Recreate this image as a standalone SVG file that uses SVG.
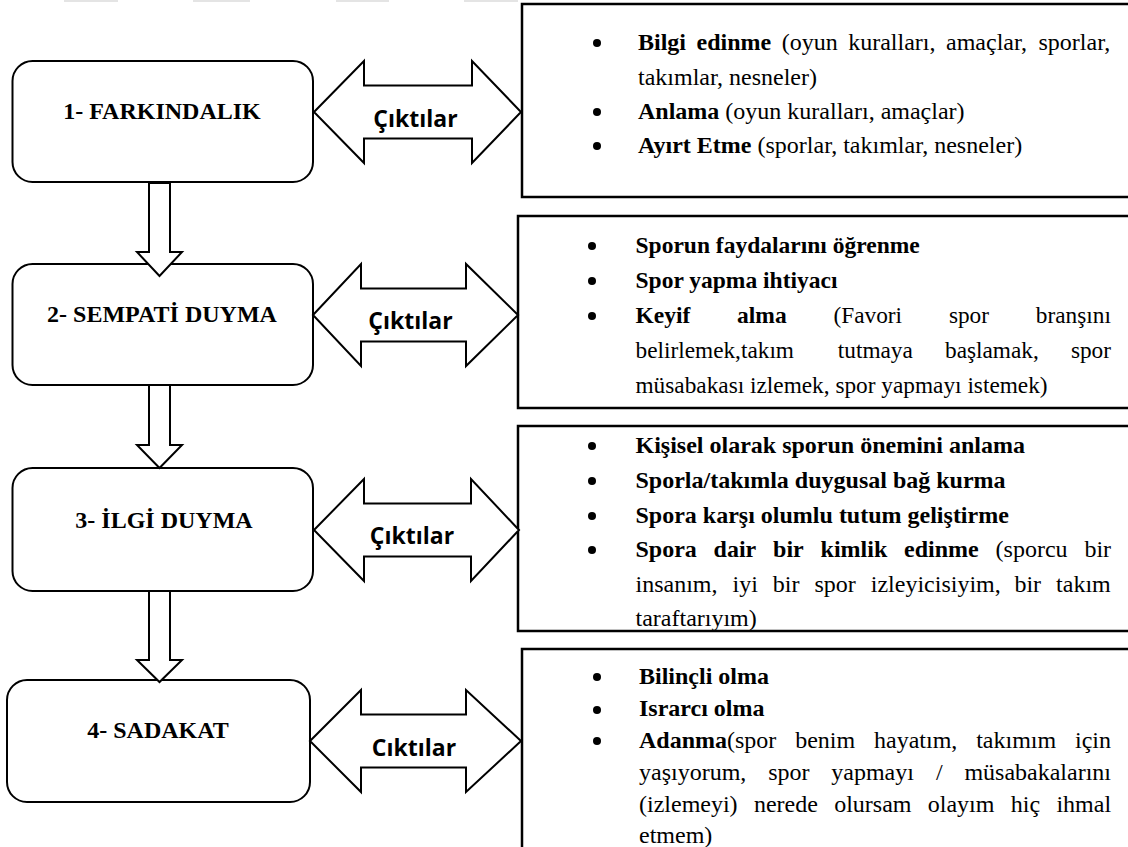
<svg xmlns="http://www.w3.org/2000/svg" width="1128" height="847" viewBox="0 0 1128 847">
<style>
.bg{fill:#ffffff}
.stage{fill:#ffffff;stroke:#000;stroke-width:2}
.out{fill:#ffffff;stroke:#000;stroke-width:2.5}
.conn{fill:#ffffff;stroke:#000;stroke-width:2;stroke-linejoin:miter}
.title{font-family:"Liberation Serif","Times New Roman",serif;font-weight:bold;font-size:24px;fill:#000;text-anchor:middle}
.lbl{font-family:"Open Sans","Liberation Sans",sans-serif;font-weight:700;font-size:23px;fill:#000;text-anchor:middle}
.t{font-family:"Liberation Serif","Times New Roman",serif;font-size:24px;fill:#000}
.s{font-size:23.3px}
.sb{font-size:23.5px;font-weight:bold}
.b{font-weight:bold}
.dot{fill:#000}
.faint{fill:#e4e4e4}
</style>
<rect class="bg" x="0" y="0" width="1128" height="847"/>
<g id="top-marks">
<rect class="faint" x="64" y="0" width="54" height="2"/>
<rect class="faint" x="193" y="0" width="57" height="2"/>
<rect class="faint" x="336" y="0" width="53" height="2"/>
<rect class="faint" x="464" y="0" width="54" height="2"/>
</g>

<g id="out-1">
<rect class="out" x="522" y="4" width="620" height="193"/>
<circle class="dot" cx="597" cy="43" r="4"/>
<circle class="dot" cx="597" cy="112" r="4"/>
<circle class="dot" cx="597" cy="146" r="4"/>
<text class="t" y="50"><tspan class="b" x="638">Bilgi</tspan><tspan class="b" x="696.5">edinme</tspan><tspan x="781.7">(oyun</tspan><tspan x="848.2">kuralları,</tspan><tspan x="946">amaçlar,</tspan><tspan x="1038.5">sporlar,</tspan></text>
<text class="t" x="638" y="85">takımlar, nesneler)</text>
<text class="t" x="638" y="119"><tspan class="b">Anlama</tspan> (oyun kuralları, amaçlar)</text>
<text class="t" x="638" y="153"><tspan class="b">Ayırt Etme</tspan> (sporlar, takımlar, nesneler)</text>
</g>

<g id="out-2">
<rect class="out" x="518" y="216" width="620" height="192"/>
<circle class="dot" cx="592" cy="246" r="4"/>
<circle class="dot" cx="592" cy="281" r="4"/>
<circle class="dot" cx="592" cy="316" r="4"/>
<text class="t sb" x="635.5" y="253">Sporun faydalarını öğrenme</text>
<text class="t sb" x="635.5" y="288">Spor yapma ihtiyacı</text>
<text class="t s" y="323"><tspan class="sb" x="635.5">Keyif</tspan><tspan class="sb" x="737.1">alma</tspan><tspan x="833.5">(Favori</tspan><tspan x="948.9">spor</tspan><tspan x="1035.8">branşını</tspan></text>
<text class="t s" y="358"><tspan x="635.5">belirlemek,takım</tspan><tspan x="837.8">tutmaya</tspan><tspan x="945">başlamak,</tspan><tspan x="1070.9">spor</tspan></text>
<text class="t s" x="635.5" y="393">müsabakası izlemek, spor yapmayı istemek)</text>
</g>

<g id="out-3">
<rect class="out" x="518" y="426" width="620" height="205"/>
<circle class="dot" cx="592" cy="446" r="4"/>
<circle class="dot" cx="592" cy="481" r="4"/>
<circle class="dot" cx="592" cy="516" r="4"/>
<circle class="dot" cx="592" cy="550" r="4"/>
<text class="t b" x="635.5" y="453">Kişisel olarak sporun önemini anlama</text>
<text class="t b" x="635.5" y="488">Sporla/takımla duygusal bağ kurma</text>
<text class="t b" x="635.5" y="523">Spora karşı olumlu tutum geliştirme</text>
<text class="t" y="557"><tspan class="b" x="635.5">Spora</tspan><tspan class="b" x="713.6">dair</tspan><tspan class="b" x="773.1">bir</tspan><tspan class="b" x="820.6">kimlik</tspan><tspan class="b" x="904.1">edinme</tspan><tspan x="995.6">(sporcu</tspan><tspan x="1084.4">bir</tspan></text>
<text class="t" y="592"><tspan x="635.5">insanım,</tspan><tspan x="732.5">iyi</tspan><tspan x="772.8">bir</tspan><tspan x="814.5">spor</tspan><tspan x="870.8">izleyicisiyim,</tspan><tspan x="1014.4">bir</tspan><tspan x="1056.1">takım</tspan></text>
<text class="t" x="635.5" y="626">taraftarıyım)</text>
</g>

<g id="out-4">
<rect class="out" x="522" y="649" width="620" height="220"/>
<circle class="dot" cx="597" cy="677" r="4"/>
<circle class="dot" cx="597" cy="710" r="4"/>
<circle class="dot" cx="597" cy="741" r="4"/>
<text class="t b" x="639" y="684">Bilinçli olma</text>
<text class="t b" x="639" y="716">Israrcı olma</text>
<text class="t" y="748"><tspan x="639"><tspan class="b">Adanma</tspan>(spor</tspan><tspan x="795.2">benim</tspan><tspan x="874">hayatım,</tspan><tspan x="976.2">takımım</tspan><tspan x="1075">için</tspan></text>
<text class="t" y="780"><tspan x="639">yaşıyorum,</tspan><tspan x="768.2">spor</tspan><tspan x="831.3">yapmayı</tspan><tspan x="935.9">/</tspan><tspan x="964.4">müsabakalarını</tspan></text>
<text class="t" y="812"><tspan x="639">(izlemeyi)</tspan><tspan x="753.9">nerede</tspan><tspan x="834.2">olursam</tspan><tspan x="927.8">olayım</tspan><tspan x="1010.8">hiç</tspan><tspan x="1056.4">ihmal</tspan></text>
<text class="t" x="639" y="843">etmem)</text>
</g>

<g id="stage-1">
<rect class="stage" x="12.5" y="61" width="300.5" height="121" rx="20" ry="20"/>
<text class="title" x="162" y="119">1- FARKINDALIK</text>
</g>
<g id="stage-2">
<rect class="stage" x="12.5" y="264" width="300.5" height="121" rx="20" ry="20"/>
<text class="title" x="162" y="322">2- SEMPATİ DUYMA</text>
</g>
<g id="stage-3">
<rect class="stage" x="12.5" y="468" width="300.5" height="123" rx="20" ry="20"/>
<text class="title" x="164" y="528">3- İLGİ DUYMA</text>
</g>
<g id="stage-4">
<rect class="stage" x="7" y="680" width="303" height="122" rx="20" ry="20"/>
<text class="title" x="158" y="738">4- SADAKAT</text>
</g>

<g id="connectors">
<polygon class="conn" points="149,183 170,183 170,252 182,252 159.5,276 137,252 149,252"/>
<polygon class="conn" points="149,385 170,385 170,445 182,445 159.5,468 137,445 149,445"/>
<polygon class="conn" points="149,591 170,591 170,660 182,660 159.5,682 137,660 149,660"/>

<polygon class="conn" points="314,112 364,61 364,85.5 472,85.5 472,61 521,112 472,163 472,138.5 364,138.5 364,163"/>
<polygon class="conn" points="313,315 361,264 361,288.5 466,288.5 466,264 518,315 466,366 466,341.5 361,341.5 361,366"/>
<polygon class="conn" points="314,530 364,479 364,503.5 471,503.5 471,479 519,530 471,581 471,556.5 364,556.5 364,581"/>
<polygon class="conn" points="310,741 361,690 361,714.5 466,714.5 466,690 521,741 466,792 466,767.5 361,767.5 361,792"/>
<text class="lbl" x="415.5" y="127">Çıktılar</text>
<text class="lbl" x="410.5" y="329">Çıktılar</text>
<text class="lbl" x="412" y="544">Çıktılar</text>
<text class="lbl" x="414" y="756">Cıktılar</text>
</g>
</svg>
